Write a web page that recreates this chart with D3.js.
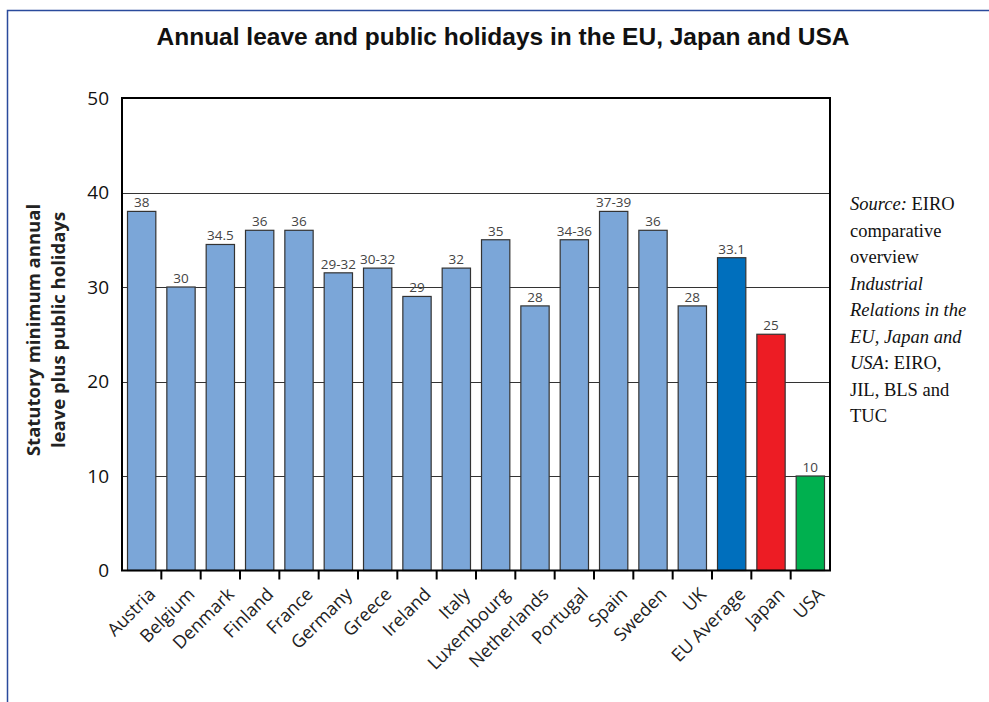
<!DOCTYPE html>
<html>
<head>
<meta charset="utf-8">
<script src="https://cdn.jsdelivr.net/npm/d3@7"></script>
<style>
  body { margin: 0; background: #fff; }
  svg { display: block; }
</style>
</head>
<body>
<svg id="board" width="989" height="702"></svg>
<script>
// chart data
let countries = ['Austria', 'Belgium', 'Denmark', 'Finland', 'France', 'Germany', 'Greece', 'Ireland', 'Italy',
    'Luxembourg', 'Netherlands', 'Portugal', 'Spain', 'Sweden', 'UK', 'EU Average', 'Japan', 'USA']
let days = [38, 30, 34.5, 36, 36, 31.5, 32, 29, 32, 35, 28, 35, 38, 36, 28, 33.1, 25, 10]
let dayLabels = ['38', '30', '34.5', '36', '36', '29-32', '30-32', '29', '32', '35', '28', '34-36', '37-39', '36', '28', '33.1', '25', '10']
let yTicks = [0, 10, 20, 30, 40, 50]
let sourceLines = [
    [['Source:', true], [' EIRO', false]],
    [['comparative', false]],
    [['overview', false]],
    [['Industrial', true]],
    [['Relations in the', true]],
    [['EU, Japan and', true]],
    [['USA', true], [': EIRO,', false]],
    [['JIL, BLS and', false]],
    [['TUC', false]]
]

let board = d3.select('#board')

let plotLeft = 122
let plotRight = 830
let plotTop = 98
let plotBottom = 570.5

// blue frame round the figure
board.append('rect')
    .attr('x', 7.5)
    .attr('y', 10.5)
    .attr('width', 1000)
    .attr('height', 720)
    .attr('fill', 'none')
    .attr('stroke', '#2a4a9c')
    .attr('stroke-width', 1.5)

board.append('text')
    .text('Annual leave and public holidays in the EU, Japan and USA')
    .attr('x', 503)
    .attr('y', 45)
    .attr('text-anchor', 'middle')
    .attr('font-family', 'Liberation Sans, Arial, sans-serif')
    .attr('font-weight', 'bold')
    .attr('font-size', 24.5)
    .attr('fill', '#111')

let xScale = d3.scaleBand()
    .domain(countries)
    .range([plotLeft, plotRight])
    .paddingInner(0.28)
    .paddingOuter(0.14)

let yScale = d3.scaleLinear()
    .domain([0, 50])
    .range([plotBottom, plotTop])

// grid lines
board.append('g')
    .selectAll('line')
    .data(yTicks.filter((t) => t > 0 && t < 50))
    .enter()
    .append('line')
    .attr('x1', plotLeft)
    .attr('x2', plotRight)
    .attr('y1', (t) => Math.round(yScale(t)) + 0.5)
    .attr('y2', (t) => Math.round(yScale(t)) + 0.5)
    .attr('stroke', '#333')
    .attr('stroke-width', 1.2)

let barColour = (name) => {
    if (name === 'EU Average') {
        return '#006fbd'
    } else if (name === 'Japan') {
        return '#ed1c24'
    } else if (name === 'USA') {
        return '#00b04f'
    }
    return '#7ba6d8'
}

let bars = board.append('g')
    .selectAll('g')
    .data(countries)
    .enter()
    .append('g')

bars.append('rect')
    .attr('x', (c) => xScale(c))
    .attr('y', (c, i) => yScale(days[i]))
    .attr('width', xScale.bandwidth())
    .attr('height', (c, i) => plotBottom - yScale(days[i]))
    .attr('fill', (c) => barColour(c))
    .attr('stroke', '#333')
    .attr('stroke-width', 1.2)

bars.append('text')
    .text((c, i) => dayLabels[i])
    .attr('x', (c) => xScale(c) + xScale.bandwidth() / 2)
    .attr('y', (c, i) => yScale(days[i]) - 4)
    .attr('text-anchor', 'middle')
    .attr('font-family', 'Open Sans, sans-serif')
    .attr('font-size', 13.5)
    .attr('fill', '#444')

// plot frame
board.append('rect')
    .attr('x', plotLeft)
    .attr('y', plotTop)
    .attr('width', plotRight - plotLeft)
    .attr('height', plotBottom - plotTop)
    .attr('fill', 'none')
    .attr('stroke', '#000')
    .attr('stroke-width', 2)

// ticks between the bars
let step = xScale.step()
board.append('g')
    .selectAll('line')
    .data(countries.slice(1))
    .enter()
    .append('line')
    .attr('x1', (c) => xScale(c) - step * 0.14)
    .attr('x2', (c) => xScale(c) - step * 0.14)
    .attr('y1', plotBottom)
    .attr('y2', plotBottom + 9)
    .attr('stroke', '#000')
    .attr('stroke-width', 2)

board.append('g')
    .selectAll('text')
    .data(countries)
    .enter()
    .append('text')
    .text((c) => c)
    .attr('transform', (c) => 'translate(' + (xScale(c) + xScale.bandwidth() / 2 + 6) + ',' + (plotBottom + 16) + ') rotate(-45)')
    .attr('text-anchor', 'end')
    .attr('dy', '0.7em')
    .attr('font-family', 'Open Sans, sans-serif')
    .attr('font-size', 18)
    .attr('fill', '#222')

board.append('g')
    .selectAll('text')
    .data(yTicks)
    .enter()
    .append('text')
    .text((t) => t)
    .attr('x', 109)
    .attr('y', (t) => yScale(t))
    .attr('dy', '0.36em')
    .attr('text-anchor', 'end')
    .attr('font-family', 'Open Sans, sans-serif')
    .attr('font-size', 19)
    .attr('fill', '#111')

let yTitle = board.append('text')
    .attr('transform', 'translate(40, 330) rotate(-90)')
    .attr('text-anchor', 'middle')
    .attr('font-family', 'Open Sans, sans-serif')
    .attr('font-weight', 'bold')
    .attr('font-size', 18.5)
    .attr('fill', '#222')
yTitle.append('tspan').attr('x', 0).attr('dy', 0).text('Statutory minimum annual')
yTitle.append('tspan').attr('x', 0).attr('dy', 25).text('leave plus public holidays')

let source = board.append('text')
    .attr('font-family', 'Liberation Serif, serif')
    .attr('font-size', 18.5)
    .attr('fill', '#111')
sourceLines.forEach((parts, i) => {
    parts.forEach((part, j) => {
        let span = source.append('tspan').text(part[0])
        if (j === 0) {
            span.attr('x', 850).attr('y', 210 + i * 26.5)
        }
        if (part[1]) {
            span.attr('font-style', 'italic')
        }
    })
})
</script>
</body>
</html>
